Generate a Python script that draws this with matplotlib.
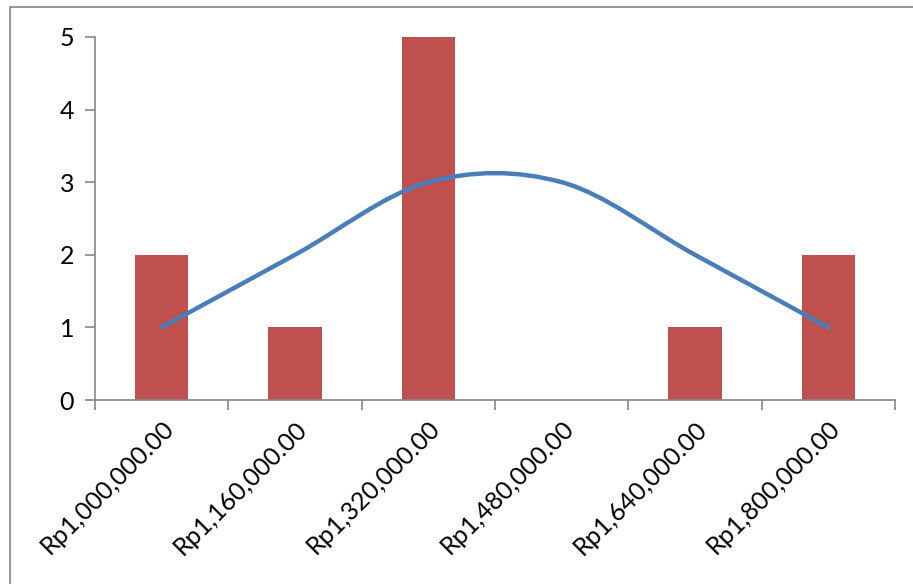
import matplotlib.pyplot as plt
from matplotlib.path import Path
from matplotlib.patches import PathPatch, Rectangle
import numpy as np

# Daten
kategorien = ['Rp1,000,000.00', 'Rp1,160,000.00', 'Rp1,320,000.00',
              'Rp1,480,000.00', 'Rp1,640,000.00', 'Rp1,800,000.00']
frekuensi = [2, 1, 5, 0, 1, 2]
kurve = [1, 2, 3, 3, 2, 1]
y_ticks = [0, 1, 2, 3, 4, 5]

plt.rcParams['font.family'] = ['Lato', 'DejaVu Sans']

fig = plt.figure(figsize=(9.13, 5.84), dpi=100)
ax = fig.add_axes([95 / 913, 1 - 400 / 584, 800 / 913, 363 / 584])

x = np.arange(len(kategorien))
ax.bar(x, frekuensi, width=0.4, color='#c0504d', zorder=2)

# geglaettete Linie wie in Excel (Catmull-Rom als Bezier)
pts = np.column_stack([x, kurve]).astype(float)
verts = [pts[0]]
codes = [Path.MOVETO]
for i in range(len(pts) - 1):
    p0 = pts[i - 1] if i > 0 else pts[i]
    p1, p2 = pts[i], pts[i + 1]
    p3 = pts[i + 2] if i + 2 < len(pts) else pts[i + 1]
    c1 = p1 + (p2 - p0) / 6
    c2 = p2 - (p3 - p1) / 6
    verts += [c1, c2, p2]
    codes += [Path.CURVE4] * 3
ax.add_patch(PathPatch(Path(verts, codes), fill=False, edgecolor='#4a7ebb',
                       linewidth=3.2, capstyle='round', zorder=3))

ax.set_xlim(-0.5, len(kategorien) - 0.5)
ax.set_ylim(0, 5)

# Achsen
for s in ['top', 'right']:
    ax.spines[s].set_visible(False)
for s in ['left', 'bottom']:
    ax.spines[s].set_color('#868686')
    ax.spines[s].set_linewidth(1.2)

ax.set_yticks(y_ticks)
ax.set_yticklabels([str(v) for v in y_ticks], fontsize=18)
ax.set_xticks(np.arange(len(kategorien) + 1) - 0.5)
ax.set_xticklabels([])
ax.set_xticks(x, minor=True)
ax.set_xticklabels(kategorien, minor=True, rotation=45, ha='right', va='top',
                   rotation_mode='anchor', fontsize=18)
ax.tick_params(axis='x', which='minor', length=0, pad=12)
ax.tick_params(axis='both', which='major', color='#868686', length=7, width=1.2)
ax.tick_params(axis='y', pad=8)

# Rahmen des Diagrammbereichs
fig.patches.append(Rectangle((10 / 913, -0.1), 1.2, 1.1 - 7 / 584, transform=fig.transFigure,
                             fill=False, edgecolor='#868686', linewidth=1.2))

fig.savefig('out.png', dpi=100)
